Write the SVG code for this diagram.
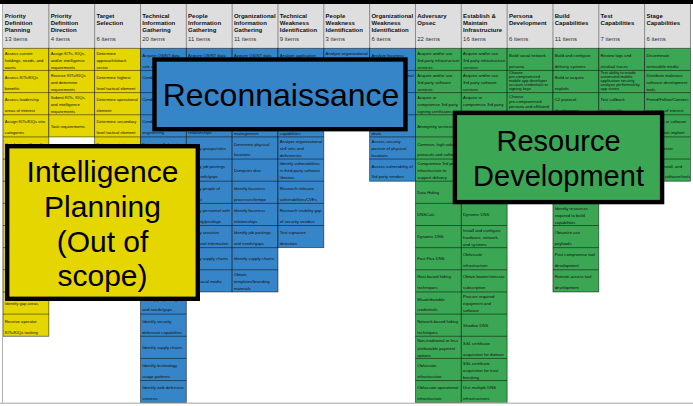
<svg xmlns="http://www.w3.org/2000/svg" width="693" height="406" viewBox="0 0 693 406">
<style>
.y{fill:#e6d600}.b{fill:#3685c8}.g{fill:#3ba654}
.col{stroke:#000;stroke-opacity:.6;stroke-width:.8}
.sep{fill:none;stroke:#000;stroke-opacity:.6;stroke-width:.8}
.t{font-family:"Liberation Sans",Arial,sans-serif;font-size:4.2px;fill:#111}
.s{font-size:4px}
.h{font-family:"Liberation Sans",Arial,sans-serif;font-size:6px;font-weight:bold;fill:#111}
.n{font-family:"Liberation Sans",Arial,sans-serif;font-size:6px;fill:#333}
.box{stroke:#000;stroke-width:4.4}
.big{font-family:"Liberation Sans",Arial,sans-serif;fill:#000;text-anchor:middle}
</style>
<rect width="693" height="406" fill="#fff"/>
<rect x="0" y="0" width="693" height="4" fill="#000"/>
<g id="header">
<rect x="2.5" y="4" width="688.5" height="44.3" fill="#dedede"/>
<path d="M48.83 4V48.3M94.66 4V48.3M140.49 4V48.3M186.32 4V48.3M232.15 4V48.3M277.98 4V48.3M323.81 4V48.3M369.64 4V48.3M415.47 4V48.3M461.3 4V48.3M507.13 4V48.3M552.96 4V48.3M598.79 4V48.3M644.62 4V48.3M690.45 4V48.3" stroke="#8a8a8a" stroke-width="1" fill="none"/>
<text class="h"><tspan x="4.8" y="18.3">Priority</tspan><tspan x="4.8" y="25.3">Definition</tspan><tspan x="4.8" y="32.3">Planning</tspan></text><text class="n" x="4.8" y="40.5">13 items</text>
<text class="h"><tspan x="50.63" y="18.3">Priority</tspan><tspan x="50.63" y="25.3">Definition</tspan><tspan x="50.63" y="32.3">Direction</tspan></text><text class="n" x="50.63" y="40.5">4 items</text>
<text class="h"><tspan x="96.46" y="18.3">Target</tspan><tspan x="96.46" y="25.3">Selection</tspan></text><text class="n" x="96.46" y="40.5">6 items</text>
<text class="h"><tspan x="142.29" y="18.3">Technical</tspan><tspan x="142.29" y="25.3">Information</tspan><tspan x="142.29" y="32.3">Gathering</tspan></text><text class="n" x="142.29" y="40.5">20 items</text>
<text class="h"><tspan x="188.12" y="18.3">People</tspan><tspan x="188.12" y="25.3">Information</tspan><tspan x="188.12" y="32.3">Gathering</tspan></text><text class="n" x="188.12" y="40.5">11 items</text>
<text class="h"><tspan x="233.95" y="18.3">Organizational</tspan><tspan x="233.95" y="25.3">Information</tspan><tspan x="233.95" y="32.3">Gathering</tspan></text><text class="n" x="233.95" y="40.5">11 items</text>
<text class="h"><tspan x="279.78" y="18.3">Technical</tspan><tspan x="279.78" y="25.3">Weakness</tspan><tspan x="279.78" y="32.3">Identification</tspan></text><text class="n" x="279.78" y="40.5">9 items</text>
<text class="h"><tspan x="325.61" y="18.3">People</tspan><tspan x="325.61" y="25.3">Weakness</tspan><tspan x="325.61" y="32.3">Identification</tspan></text><text class="n" x="325.61" y="40.5">3 items</text>
<text class="h"><tspan x="371.44" y="18.3">Organizational</tspan><tspan x="371.44" y="25.3">Weakness</tspan><tspan x="371.44" y="32.3">Identification</tspan></text><text class="n" x="371.44" y="40.5">6 items</text>
<text class="h"><tspan x="417.27" y="18.3">Adversary</tspan><tspan x="417.27" y="25.3">Opsec</tspan></text><text class="n" x="417.27" y="40.5">22 items</text>
<text class="h"><tspan x="463.1" y="18.3">Establish &amp;</tspan><tspan x="463.1" y="25.3">Maintain</tspan><tspan x="463.1" y="32.3">Infrastructure</tspan></text><text class="n" x="463.1" y="40.5">16 items</text>
<text class="h"><tspan x="508.93" y="18.3">Persona</tspan><tspan x="508.93" y="25.3">Development</tspan></text><text class="n" x="508.93" y="40.5">6 items</text>
<text class="h"><tspan x="554.76" y="18.3">Build</tspan><tspan x="554.76" y="25.3">Capabilities</tspan></text><text class="n" x="554.76" y="40.5">11 items</text>
<text class="h"><tspan x="600.59" y="18.3">Test</tspan><tspan x="600.59" y="25.3">Capabilities</tspan></text><text class="n" x="600.59" y="40.5">7 items</text>
<text class="h"><tspan x="646.42" y="18.3">Stage</tspan><tspan x="646.42" y="25.3">Capabilities</tspan></text><text class="n" x="646.42" y="40.5">6 items</text>
</g>

<g id="col-priority-planning">
<rect class="y col" x="3" y="48.3" width="45.83" height="287.95"/>
<path class="sep" d="M3 70.45h45.83M3 92.6h45.83M3 114.75h45.83M3 136.9h45.83M3 159.05h45.83M3 181.2h45.83M3 203.35h45.83M3 225.5h45.83M3 247.65h45.83M3 269.8h45.83M3 291.95h45.83M3 314.1h45.83"/>
<text class="t" x="4.8" y="54.5">Assess current<tspan x="4.8" dy="7.1">holdings, needs, and</tspan><tspan x="4.8" dy="7.1">wants</tspan></text>
<text class="t" x="4.8" y="79.05">Assess KITs/KIQs<tspan x="4.8" dy="10.8">benefits</tspan></text>
<text class="t" x="4.8" y="101.2">Assess leadership<tspan x="4.8" dy="10.8">areas of interest</tspan></text>
<text class="t" x="4.8" y="123.35">Assign KITs/KIQs into<tspan x="4.8" dy="10.8">categories</tspan></text>
<text class="t" x="4.8" y="145.5">Conduct cost/benefit</text>
<text class="t" x="4.8" y="304.75">Identify gap areas</text>
<text class="t" x="4.8" y="322.7">Receive operator<tspan x="4.8" dy="10.8">KITs/KIQs tasking</tspan></text>
</g>

<g id="col-priority-direction">
<rect class="y col" x="48.83" y="48.3" width="45.83" height="88.6"/>
<path class="sep" d="M48.83 70.45h45.83M48.83 92.6h45.83M48.83 114.75h45.83"/>
<text class="t" x="50.63" y="54.5">Assign KITs, KIQs,<tspan x="50.63" dy="7.1">and/or intelligence</tspan><tspan x="50.63" dy="7.1">requirements</tspan></text>
<text class="t" x="50.63" y="76.65">Receive KITs/KIQs<tspan x="50.63" dy="7.1">and determine</tspan><tspan x="50.63" dy="7.1">requirements</tspan></text>
<text class="t" x="50.63" y="98.8">Submit KITs, KIQs,<tspan x="50.63" dy="7.1">and intelligence</tspan><tspan x="50.63" dy="7.1">requirements</tspan></text>
<text class="t" x="50.63" y="127.55">Task requirements</text>
</g>

<g id="col-target-selection">
<rect class="y col" x="94.66" y="48.3" width="45.83" height="132.9"/>
<path class="sep" d="M94.66 70.45h45.83M94.66 92.6h45.83M94.66 114.75h45.83M94.66 136.9h45.83M94.66 159.05h45.83"/>
<text class="t" x="96.46" y="54.5">Determine<tspan x="96.46" dy="7.1">approach/attack</tspan><tspan x="96.46" dy="7.1">vector</tspan></text>
<text class="t" x="96.46" y="79.05">Determine highest<tspan x="96.46" dy="10.8">level tactical element</tspan></text>
<text class="t" x="96.46" y="101.2">Determine operational<tspan x="96.46" dy="10.8">element</tspan></text>
<text class="t" x="96.46" y="123.35">Determine secondary<tspan x="96.46" dy="10.8">level tactical element</tspan></text>
<text class="t" x="96.46" y="145.5">Determine strategic</text>
</g>

<g id="col-technical-info">
<rect class="b col" x="140.49" y="48.3" width="45.83" height="354.7"/>
<path class="sep" d="M140.49 70.45h45.83M140.49 92.6h45.83M140.49 114.75h45.83M140.49 136.9h45.83M140.49 159.05h45.83M140.49 181.2h45.83M140.49 203.35h45.83M140.49 225.5h45.83M140.49 247.65h45.83M140.49 269.8h45.83M140.49 291.95h45.83M140.49 314.1h45.83M140.49 336.25h45.83M140.49 358.4h45.83M140.49 380.55h45.83M140.49 402.7h45.83"/>
<text class="t" x="142.29" y="56.9">Acquire OSINT data<tspan x="142.29" dy="10.8">sets and information</tspan></text>
<text class="t" x="142.29" y="79.05">Conduct</text>
<text class="t" x="142.29" y="101.2">Conduct</text>
<text class="t" x="142.29" y="123.35">Conduct social<tspan x="142.29" dy="10.8">engineering</tspan></text>
<text class="t" x="142.29" y="145.5">Determine 3rd party</text>
<text class="t" x="142.29" y="300.55">Identify job postings<tspan x="142.29" dy="10.8">and needs/gaps</tspan></text>
<text class="t" x="142.29" y="322.7">Identify security<tspan x="142.29" dy="10.8">defensive capabilities</tspan></text>
<text class="t" x="142.29" y="349.05">Identify supply chains</text>
<text class="t" x="142.29" y="367">Identify technology<tspan x="142.29" dy="10.8">usage patterns</tspan></text>
<text class="t" x="142.29" y="389.15">Identify web defensive<tspan x="142.29" dy="10.8">services</tspan></text>
</g>

<g id="col-people-info">
<rect class="b col" x="186.32" y="48.3" width="45.83" height="243.65"/>
<path class="sep" d="M186.32 70.45h45.83M186.32 92.6h45.83M186.32 114.75h45.83M186.32 136.9h45.83M186.32 159.05h45.83M186.32 181.2h45.83M186.32 203.35h45.83M186.32 225.5h45.83M186.32 247.65h45.83M186.32 269.8h45.83"/>
<text class="t" x="188.12" y="56.9">Acquire OSINT data</text>
<text class="t" x="188.12" y="134.15">relationships</text>
<text class="t" x="188.12" y="149.7">Identify groups/roles</text>
<text class="t" x="188.12" y="167.65">Identify job postings<tspan x="188.12" dy="10.8">and needs/gaps</tspan></text>
<text class="t" x="188.12" y="189.8">Identify people of<tspan x="188.12" dy="10.8">interest</tspan></text>
<text class="t" x="188.12" y="211.95">Identify personnel with<tspan x="188.12" dy="10.8">authority/privilege</tspan></text>
<text class="t" x="188.12" y="234.1">Identify sensitive<tspan x="188.12" dy="10.8">personnel information</tspan></text>
<text class="t" x="188.12" y="260.45">Identify supply chains</text>
<text class="t" x="188.12" y="282.6">Mine social media</text>
</g>

<g id="col-org-info">
<rect class="b col" x="232.15" y="48.3" width="45.83" height="243.65"/>
<path class="sep" d="M232.15 70.45h45.83M232.15 92.6h45.83M232.15 114.75h45.83M232.15 136.9h45.83M232.15 159.05h45.83M232.15 181.2h45.83M232.15 203.35h45.83M232.15 225.5h45.83M232.15 247.65h45.83M232.15 269.8h45.83"/>
<text class="t" x="233.95" y="56.9">Acquire OSINT data</text>
<text class="t" x="233.95" y="135.15">management</text>
<text class="t" x="233.95" y="145.5">Determine physical<tspan x="233.95" dy="10.8">locations</tspan></text>
<text class="t" x="233.95" y="171.85">Dumpster dive</text>
<text class="t" x="233.95" y="189.8">Identify business<tspan x="233.95" dy="10.8">processes/tempo</tspan></text>
<text class="t" x="233.95" y="211.95">Identify business<tspan x="233.95" dy="10.8">relationships</tspan></text>
<text class="t" x="233.95" y="234.1">Identify job postings<tspan x="233.95" dy="10.8">and needs/gaps</tspan></text>
<text class="t" x="233.95" y="260.45">Identify supply chains</text>
<text class="t" x="233.95" y="276">Obtain<tspan x="233.95" dy="7.1">templates/branding</tspan><tspan x="233.95" dy="7.1">materials</tspan></text>
</g>

<g id="col-technical-weakness">
<rect class="b col" x="277.98" y="48.3" width="45.83" height="199.35"/>
<path class="sep" d="M277.98 70.45h45.83M277.98 92.6h45.83M277.98 114.75h45.83M277.98 136.9h45.83M277.98 159.05h45.83M277.98 181.2h45.83M277.98 203.35h45.83M277.98 225.5h45.83"/>
<text class="t" x="279.78" y="56.9">Analyze application</text>
<text class="t" x="279.78" y="135.15">capabilities</text>
<text class="t" x="279.78" y="143.1">Analyze organizational<tspan x="279.78" dy="7.1">skill sets and</tspan><tspan x="279.78" dy="7.1">deficiencies</tspan></text>
<text class="t" x="279.78" y="165.25">Identify vulnerabilities<tspan x="279.78" dy="7.1">in third-party software</tspan><tspan x="279.78" dy="7.1">libraries</tspan></text>
<text class="t" x="279.78" y="189.8">Research relevant<tspan x="279.78" dy="10.8">vulnerabilities/CVEs</tspan></text>
<text class="t" x="279.78" y="211.95">Research visibility gap<tspan x="279.78" dy="10.8">of security vendors</tspan></text>
<text class="t" x="279.78" y="234.1">Test signature<tspan x="279.78" dy="10.8">detection</tspan></text>
</g>

<g id="col-people-weakness">
<rect class="b col" x="323.81" y="48.3" width="45.83" height="66.45"/>
<path class="sep" d="M323.81 70.45h45.83M323.81 92.6h45.83"/>
<text class="t" x="325.61" y="54.5">Analyze organizational</text>
</g>

<g id="col-org-weakness">
<rect class="b col" x="369.64" y="48.3" width="45.83" height="132.9"/>
<path class="sep" d="M369.64 70.45h45.83M369.64 92.6h45.83M369.64 114.75h45.83M369.64 136.9h45.83M369.64 159.05h45.83"/>
<text class="t" x="371.44" y="56.9">Analyze business</text>
<text class="t" x="371.44" y="76.65">Analyze organizational</text>
<text class="t" x="371.44" y="135.15">deals</text>
<text class="t" x="371.44" y="143.1">Assess security<tspan x="371.44" dy="7.1">posture of physical</tspan><tspan x="371.44" dy="7.1">locations</tspan></text>
<text class="t" x="371.44" y="167.65">Assess vulnerability of<tspan x="371.44" dy="10.8">3rd party vendors</tspan></text>
</g>

<g id="col-adversary-opsec">
<rect class="g col" x="415.47" y="48.3" width="45.83" height="354.7"/>
<path class="sep" d="M415.47 70.45h45.83M415.47 92.6h45.83M415.47 114.75h45.83M415.47 136.9h45.83M415.47 159.05h45.83M415.47 181.2h45.83M415.47 203.35h45.83M415.47 225.5h45.83M415.47 247.65h45.83M415.47 269.8h45.83M415.47 291.95h45.83M415.47 314.1h45.83M415.47 336.25h45.83M415.47 358.4h45.83M415.47 380.55h45.83M415.47 402.7h45.83"/>
<text class="t" x="417.27" y="54.5">Acquire and/or use<tspan x="417.27" dy="7.1">3rd party infrastructure</tspan><tspan x="417.27" dy="7.1">services</tspan></text>
<text class="t" x="417.27" y="76.65">Acquire and/or use<tspan x="417.27" dy="7.1">3rd party software</tspan><tspan x="417.27" dy="7.1">services</tspan></text>
<text class="t" x="417.27" y="98.8">Acquire or<tspan x="417.27" dy="7.1">compromise 3rd party</tspan><tspan x="417.27" dy="7.1">signing certificates</tspan></text>
<text class="t" x="417.27" y="127.55">Anonymity services</text>
<text class="t" x="417.27" y="145.5">Common, high volume<tspan x="417.27" dy="10.8">protocols and software</tspan></text>
<text class="t" x="417.27" y="165.25">Compromise 3rd party<tspan x="417.27" dy="7.1">infrastructure to</tspan><tspan x="417.27" dy="7.1">support delivery</tspan></text>
<text class="t" x="417.27" y="194">Data Hiding</text>
<text class="t" x="417.27" y="216.15">DNSCalc</text>
<text class="t" x="417.27" y="238.3">Dynamic DNS</text>
<text class="t" x="417.27" y="260.45">Fast Flux DNS</text>
<text class="t" x="417.27" y="278.4">Host-based hiding<tspan x="417.27" dy="10.8">techniques</tspan></text>
<text class="t" x="417.27" y="300.55">Misattributable<tspan x="417.27" dy="10.8">credentials</tspan></text>
<text class="t" x="417.27" y="322.7">Network-based hiding<tspan x="417.27" dy="10.8">techniques</tspan></text>
<text class="t" x="417.27" y="342.45">Non-traditional or less<tspan x="417.27" dy="7.1">attributable payment</tspan><tspan x="417.27" dy="7.1">options</tspan></text>
<text class="t" x="417.27" y="367">Obfuscate<tspan x="417.27" dy="10.8">infrastructure</tspan></text>
<text class="t" x="417.27" y="389.15">Obfuscate operational<tspan x="417.27" dy="10.8">infrastructure</tspan></text>
</g>

<g id="col-establish-infrastructure">
<rect class="g col" x="461.3" y="48.3" width="45.83" height="354.4"/>
<path class="sep" d="M461.3 70.45h45.83M461.3 92.6h45.83M461.3 114.75h45.83M461.3 136.9h45.83M461.3 159.05h45.83M461.3 181.2h45.83M461.3 203.35h45.83M461.3 225.5h45.83M461.3 247.65h45.83M461.3 269.8h45.83M461.3 291.95h45.83M461.3 314.1h45.83M461.3 336.25h45.83M461.3 358.4h45.83M461.3 380.55h45.83"/>
<text class="t" x="463.1" y="54.5">Acquire and/or use<tspan x="463.1" dy="7.1">3rd party infrastructure</tspan><tspan x="463.1" dy="7.1">services</tspan></text>
<text class="t" x="463.1" y="76.65">Acquire and/or use<tspan x="463.1" dy="7.1">3rd party software</tspan><tspan x="463.1" dy="7.1">services</tspan></text>
<text class="t" x="463.1" y="98.8">Acquire or<tspan x="463.1" dy="7.1">compromise 3rd party</tspan></text>
<text class="t" x="463.1" y="216.15">Dynamic DNS</text>
<text class="t" x="463.1" y="231.7">Install and configure<tspan x="463.1" dy="7.1">hardware, network,</tspan><tspan x="463.1" dy="7.1">and systems</tspan></text>
<text class="t" x="463.1" y="256.25">Obfuscate<tspan x="463.1" dy="10.8">infrastructure</tspan></text>
<text class="t" x="463.1" y="278.4">Obtain booter/stressor<tspan x="463.1" dy="10.8">subscription</tspan></text>
<text class="t" x="463.1" y="298.15">Procure required<tspan x="463.1" dy="7.1">equipment and</tspan><tspan x="463.1" dy="7.1">software</tspan></text>
<text class="t" x="463.1" y="326.9">Shadow DNS</text>
<text class="t" x="463.1" y="344.85">SSL certificate<tspan x="463.1" dy="10.8">acquisition for domain</tspan></text>
<text class="t" x="463.1" y="364.6">SSL certificate<tspan x="463.1" dy="7.1">acquisition for trust</tspan><tspan x="463.1" dy="7.1">breaking</tspan></text>
<text class="t" x="463.1" y="389.15">Use multiple DNS<tspan x="463.1" dy="10.8">infrastructures</tspan></text>
</g>

<g id="col-persona-development">
<rect class="g col" x="507.13" y="48.3" width="45.83" height="132.9"/>
<path class="sep" d="M507.13 70.45h45.83M507.13 92.6h45.83M507.13 114.75h45.83M507.13 136.9h45.83M507.13 159.05h45.83"/>
<text class="t" x="508.93" y="56.9">Build social network<tspan x="508.93" dy="10.8">persona</tspan></text>
<text class="t s" x="508.93" y="74.05">Choose<tspan x="508.93" dy="4">pre-compromised</tspan><tspan x="508.93" dy="4">mobile app developer</tspan><tspan x="508.93" dy="4">account credentials or</tspan><tspan x="508.93" dy="4">signing keys</tspan></text>
<text class="t" x="508.93" y="97.8">Choose<tspan x="508.93" dy="5.2">pre-compromised</tspan><tspan x="508.93" dy="5.2">persona and affiliated</tspan></text>
</g>

<g id="col-build-capabilities">
<rect class="g col" x="552.96" y="48.3" width="45.83" height="243.65"/>
<path class="sep" d="M552.96 70.45h45.83M552.96 92.6h45.83M552.96 114.75h45.83M552.96 136.9h45.83M552.96 159.05h45.83M552.96 181.2h45.83M552.96 203.35h45.83M552.96 225.5h45.83M552.96 247.65h45.83M552.96 269.8h45.83"/>
<text class="t" x="554.76" y="56.9">Build and configure<tspan x="554.76" dy="10.8">delivery systems</tspan></text>
<text class="t" x="554.76" y="79.05">Build or acquire<tspan x="554.76" dy="10.8">exploits</tspan></text>
<text class="t" x="554.76" y="101.2">C2 protocol<tspan x="554.76" dy="10.8">development</tspan></text>
<text class="t" x="554.76" y="209.55">Identify resources<tspan x="554.76" dy="7.1">required to build</tspan><tspan x="554.76" dy="7.1">capabilities</tspan></text>
<text class="t" x="554.76" y="234.1">Obtain/re-use<tspan x="554.76" dy="10.8">payloads</tspan></text>
<text class="t" x="554.76" y="256.25">Post compromise tool<tspan x="554.76" dy="10.8">development</tspan></text>
<text class="t" x="554.76" y="278.4">Remote access tool<tspan x="554.76" dy="10.8">development</tspan></text>
</g>

<g id="col-test-capabilities">
<rect class="g col" x="598.79" y="48.3" width="45.83" height="155.05"/>
<path class="sep" d="M598.79 70.45h45.83M598.79 92.6h45.83M598.79 114.75h45.83M598.79 136.9h45.83M598.79 159.05h45.83M598.79 181.2h45.83"/>
<text class="t" x="600.59" y="56.9">Review logs and<tspan x="600.59" dy="10.8">residual traces</tspan></text>
<text class="t s" x="600.59" y="74.05">Test ability to evade<tspan x="600.59" dy="4">automated mobile</tspan><tspan x="600.59" dy="4">application security</tspan><tspan x="600.59" dy="4">analysis performed by</tspan><tspan x="600.59" dy="4">app stores</tspan></text>
<text class="t" x="600.59" y="101.2">Test callback<tspan x="600.59" dy="10.8">functionality</tspan></text>
</g>

<g id="col-stage-capabilities">
<rect class="g col" x="644.62" y="48.3" width="45.83" height="132.9"/>
<path class="sep" d="M644.62 70.45h45.83M644.62 92.6h45.83M644.62 114.75h45.83M644.62 136.9h45.83M644.62 159.05h45.83"/>
<text class="t" x="646.42" y="56.9">Disseminate<tspan x="646.42" dy="10.8">removable media</tspan></text>
<text class="t" x="646.42" y="76.65">Distribute malicious<tspan x="646.42" dy="7.1">software development</tspan><tspan x="646.42" dy="7.1">tools</tspan></text>
<text class="t" x="646.42" y="101.2">Friend/Follow/Connect<tspan x="646.42" dy="10.8">to targets of interest</tspan></text>
<text class="t" x="646.42" y="123.35">Hardware or software<tspan x="646.42" dy="10.8">supply chain implant</tspan></text>
<text class="t" x="646.42" y="149.7">Port redirector</text>
<text class="t" x="646.42" y="167.65">Upload, install, and<tspan x="646.42" dy="10.8">configure software/tools</tspan></text>
</g>

<g id="frame">
<line x1="2.5" y1="4" x2="2.5" y2="403" stroke="#b0b0b0" stroke-width="1"/>
<rect x="0" y="403.9" width="693" height="2.1" fill="#fff"/>
<line x1="0" y1="403.3" x2="693" y2="403.3" stroke="#c2c2c2" stroke-width="1.4"/>
</g>

<g id="reconnaissance">
<rect class="b box" x="154.5" y="59.5" width="251" height="69.7"/>
<text class="big" x="281" y="105.5" font-size="32">Reconnaissance</text>
</g>

<g id="intelligence-planning">
<rect class="y box" x="7.2" y="146.2" width="190.6" height="152.6"/>
<text class="big" font-size="30"><tspan x="102.5" y="182">Intelligence</tspan><tspan x="102.5" y="216.8">Planning</tspan><tspan x="102.5" y="251.6">(Out of</tspan><tspan x="102.5" y="286.4">scope)</tspan></text>
</g>

<g id="resource-development">
<rect class="g box" x="454.9" y="112.9" width="207.2" height="89.2"/>
<text class="big" font-size="29"><tspan x="558.5" y="151.2">Resource</tspan><tspan x="558.5" y="185.5">Development</tspan></text>
</g>
</svg>
